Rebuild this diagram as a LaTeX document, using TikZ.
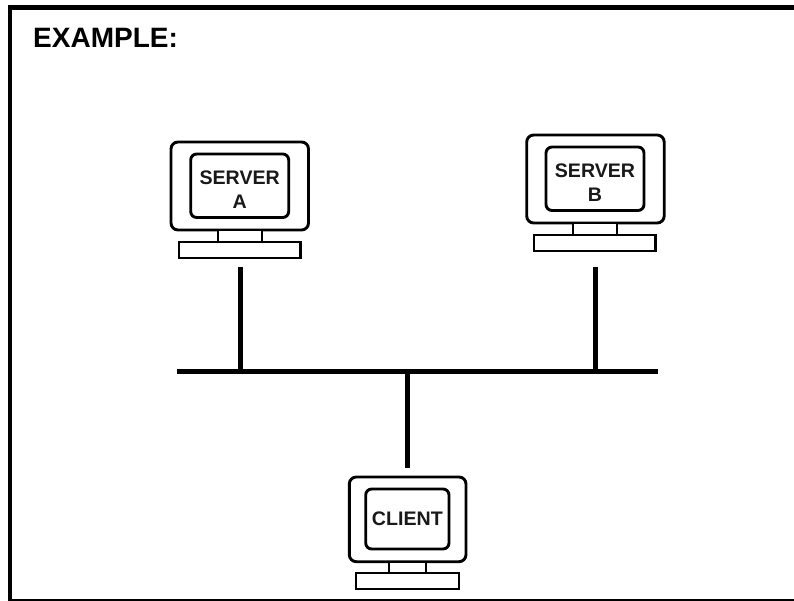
\documentclass[tikz,border=0pt]{standalone}
\usepackage{fontspec}
\setmainfont{Liberation Sans}
\tikzset{
  x=1pt,y=-1pt,
  part/.style={draw=black,line width=2.9pt,fill=white,inner sep=0pt,outer sep=0pt,anchor=north west},
  monitor/.style={part,rounded corners=7pt},
  screen/.style={part,rounded corners=6pt},
  keys/.style={part},
  screentext/.style={align=center,inner sep=0pt,font=\bfseries\fontsize{19.6}{24}\selectfont,text=black!90},
  link/.style={line width=5pt,draw=black}
}
\begin{document}
\begin{tikzpicture}
\useasboundingbox (0,0) rectangle (794,601);
\fill[white] (0,0) rectangle (794,601);
\draw[line width=4.5pt] (10.2,601) -- (10.2,7.5) -- (794,7.5);
\draw[line width=2pt] (10.2,600) -- (794,600);
\node[anchor=west,inner sep=0pt,font=\bfseries\fontsize{28}{32}\selectfont] (title) at (33,37.5) {EXAMPLE:};
% Server A
\node[monitor,minimum width=137.5pt,minimum height=88pt] (ma) at (171,142) {};
\node[screen,minimum width=98pt,minimum height=63.5pt] (sa) at (190.7,154) {};
\node[screentext,yshift=-3.5pt] (la) at (sa.center) {SERVER\\A};
\node[part,minimum width=44pt,minimum height=12pt] (ba) at (218,230) {};
\node[keys,minimum width=121.5pt,minimum height=16pt] (ka) at (179,242) {};
% Server B
\node[monitor,minimum width=137.5pt,minimum height=88pt] (mb) at (526.7,135) {};
\node[screen,minimum width=98pt,minimum height=63.5pt] (sb) at (546,147) {};
\node[screentext,yshift=-3.5pt] (lb) at (sb.center) {SERVER\\B};
\node[part,minimum width=44pt,minimum height=12pt] (bb) at (573,223) {};
\node[keys,minimum width=121.5pt,minimum height=16pt] (kb) at (534,235) {};
% Client
\node[monitor,minimum width=116.7pt,minimum height=84.7pt] (mc) at (349.3,477) {};
\node[screen,minimum width=83.3pt,minimum height=60pt] (sc) at (365.7,489) {};
\node[screentext] (lc) at (sc.center) {CLIENT};
\node[part,minimum width=37pt,minimum height=11pt] (bc) at (389,562) {};
\node[keys,minimum width=103pt,minimum height=16pt] (kc) at (356,573) {};
% Network
\coordinate (busl) at (177,371);
\coordinate (busr) at (658,371);
\coordinate (ta) at (240,267);
\coordinate (ja) at (240,371);
\coordinate (tb) at (595,267);
\coordinate (jb) at (595,371);
\coordinate (tc) at (407,468);
\coordinate (jc) at (407,371);
\draw[link] (busl) -- (busr);
\draw[link] (ta) -- (ja);
\draw[link] (tb) -- (jb);
\draw[link] (tc) -- (jc);
\end{tikzpicture}
\end{document}
